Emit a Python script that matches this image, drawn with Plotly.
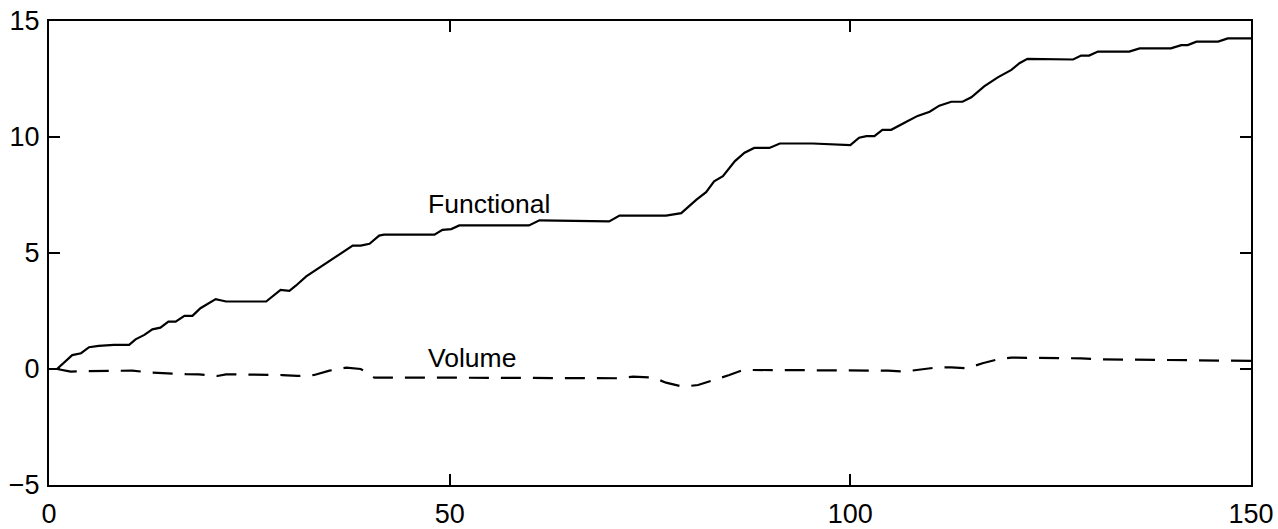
import plotly.graph_objects as go

# Functional curve (x, value)
func_x = [1, 2.9, 4.0, 5.0, 6.2, 8.1, 10.0, 10.8, 11.9, 12.9, 13.9, 14.9, 15.8, 16.9, 17.9,
          18.9, 20.8, 22.1, 27.1, 28.1, 28.9, 30.0, 30.8, 32.1, 37.9, 38.9, 40.0, 41.2, 41.8,
          48.1, 49.1, 50.2, 51.2, 59.9, 61.2, 69.9, 71.2, 77.0, 78.9, 80.8, 82.0, 83.0, 84.1,
          85.6, 86.8, 88.0, 89.9, 91.2, 95.3, 100.0, 101.1, 102.0, 103.0, 104.0, 105.1, 107.0,
          108.4, 109.9, 111.1, 112.6, 114.0, 115.1, 116.7, 118.4, 120.1, 121.1, 122.1, 127.8,
          128.8, 129.8, 130.9, 134.8, 136.1, 140.0, 141.3, 142.1, 143.2, 145.9, 147.1, 150.0]
func_y = [0.0, 0.6, 0.68, 0.94, 1.0, 1.04, 1.04, 1.28, 1.47, 1.71, 1.78, 2.04, 2.04, 2.29, 2.29,
          2.62, 3.01, 2.91, 2.91, 3.2, 3.41, 3.37, 3.59, 3.99, 5.32, 5.32, 5.40, 5.75, 5.79,
          5.79, 6.0, 6.03, 6.19, 6.19, 6.41, 6.36, 6.61, 6.61, 6.72, 7.30, 7.62, 8.09, 8.31,
          8.96, 9.32, 9.53, 9.53, 9.72, 9.72, 9.65, 9.97, 10.04, 10.04, 10.31, 10.31, 10.66,
          10.91, 11.09, 11.35, 11.52, 11.52, 11.71, 12.18, 12.57, 12.89, 13.18, 13.37, 13.34,
          13.51, 13.51, 13.68, 13.68, 13.82, 13.82, 13.96, 13.96, 14.11, 14.11, 14.25, 14.25]

# Volume curve (x, value)
vol_x = [1, 2.7, 5.0, 10.4, 12.9, 14.6, 17.1, 18.7, 21.0, 22.1, 27.1, 29.1, 31.0, 33.1, 35.0,
         37.1, 38.9, 40.6, 46.6, 69.1, 71.2, 72.9, 75.4, 77.0, 79.1, 81.0, 82.8, 84.9, 86.6,
         100.0, 104.7, 106.7, 108.4, 110.9, 112.6, 114.6, 116.5, 118.6, 120.1, 128.8, 130.7,
         140.9, 143.0, 144.7, 150.0]
vol_y = [0.0, -0.11, -0.09, -0.07, -0.16, -0.19, -0.22, -0.23, -0.30, -0.23, -0.23, -0.26, -0.30,
         -0.26, -0.07, 0.06, 0.0, -0.37, -0.37, -0.40, -0.40, -0.33, -0.37, -0.59, -0.76, -0.69,
         -0.50, -0.26, -0.04, -0.07, -0.07, -0.11, -0.04, 0.07, 0.07, 0.03, 0.25, 0.43, 0.49,
         0.46, 0.42, 0.39, 0.37, 0.39, 0.35]

x_ticks = [0, 50, 100, 150]
y_ticks = [-5, 0, 5, 10, 15]

labels = ["Functional", "Volume"]
label_x = [47.5, 47.5]
label_y = [7.1, 0.47]

FONT = "Liberation Sans, Arial, Helvetica, sans-serif"

fig = go.Figure()
fig.add_trace(go.Scatter(x=func_x, y=func_y, mode="lines", name=labels[0],
                         line=dict(color="black", width=2.2)))
fig.add_trace(go.Scatter(x=vol_x, y=vol_y, mode="lines", name=labels[1],
                         line=dict(color="black", width=2.2, dash="20px,12px")))

for t, lx, ly in zip(labels, label_x, label_y):
    fig.add_annotation(x=lx, y=ly, text=t, showarrow=False, xanchor="left", yanchor="middle",
                       xshift=-4, font=dict(family=FONT, size=26.5, color="black"))

axis_common = dict(showgrid=False, zeroline=False, showline=True, linecolor="black", linewidth=2.2,
                   mirror="ticks", ticks="inside", ticklen=11, tickwidth=1.5, tickcolor="black",
                   automargin=False, ticklabeloverflow="allow",
                   tickfont=dict(family=FONT, size=27, color="black"))

fig.update_layout(
    width=1278, height=529,
    margin=dict(l=49, r=27, t=21, b=44),
    paper_bgcolor="white", plot_bgcolor="white",
    showlegend=False,
    xaxis=dict(range=[0, 150], tickvals=x_ticks, ticklabelstandoff=3, **axis_common),
    yaxis=dict(range=[-5, 15], tickvals=y_ticks, ticklabelstandoff=2, **axis_common),
)

fig.write_html("out.html", config={"displayModeBar": False},
               post_script="document.body.style.margin='0';document.body.style.overflow='hidden';")
